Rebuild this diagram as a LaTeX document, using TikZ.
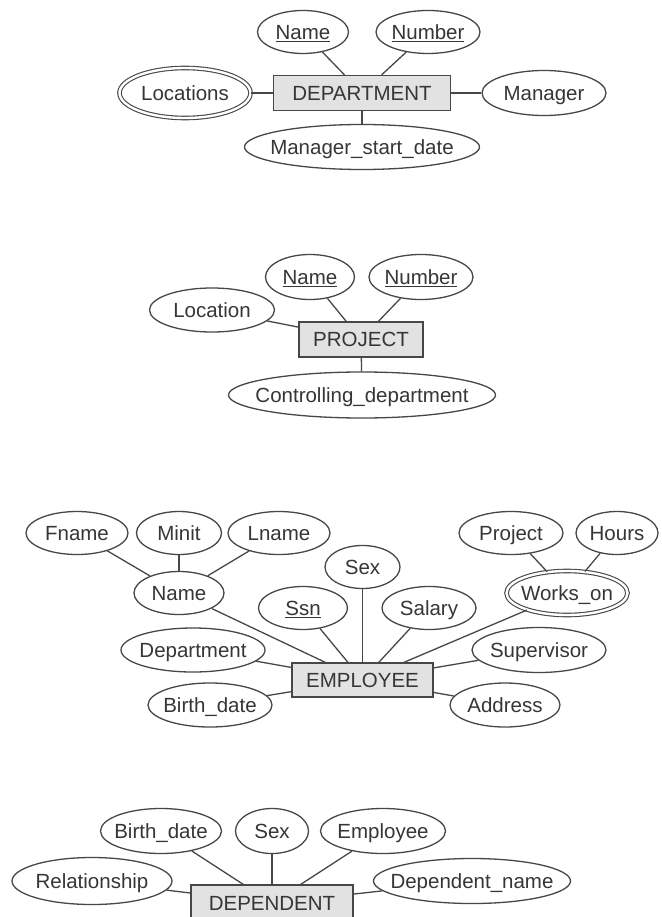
\documentclass[tikz,border=0pt]{standalone}
\usepackage{fontspec}
\setmainfont{Liberation Sans}
\usetikzlibrary{shapes.geometric}
\definecolor{linec}{HTML}{474747}
\definecolor{textc}{HTML}{363636}
\definecolor{boxc}{HTML}{E2E2E2}
\newcommand\ertxt[1]{\makebox[0pt][c]{#1}}
\begin{document}
\begin{tikzpicture}[x=1pt,y=-1pt,
  every node/.style={font=\fontsize{20.5}{24}\selectfont, text=textc, inner sep=0pt, text height=14.7pt, text depth=0pt},
  attr/.style={ellipse, draw=linec, line width=1.3pt},
  dblattr/.style={ellipse, draw=linec, line width=1.1pt, double=white, double distance=2.4pt},
  ent/.style={rectangle, draw=linec, line width=1.3pt, fill=boxc},
  sz/.style 2 args={minimum width=#1pt, minimum height=#2pt},
  conn/.style={draw=linec, line width=1.3pt}]
\fill[white] (0,0) rectangle (661,917);
\path[use as bounding box] (0,0) rectangle (661,917);

% DEPARTMENT
\node[ent, sz={177}{35}] (dept) at (362,93) {DEPARTMENT};
\node[attr, sz={91}{43}] (dName) at (303,32) {\ertxt{\underline{Name}}};
\node[attr, sz={104}{43}] (dNum) at (428,32) {\ertxt{\underline{Number}}};
\node[dblattr, sz={131}{50}] (dLoc) at (185,93) {\ertxt{Locations}};
\node[attr, sz={124}{45}] (dMgr) at (544,93) {\ertxt{Manager}};
\node[attr, sz={235}{45}] (dMsd) at (362,147) {\ertxt{Manager\_start\_date}};
\draw[conn] (dName) -- (dept);
\draw[conn] (dNum) -- (dept);
\draw[conn] (dLoc) -- (dept);
\draw[conn] (dept) -- (dMgr);
\draw[conn] (dept) -- (dMsd);

% PROJECT
\node[ent, sz={124}{35}] (proj) at (361,339.5) {PROJECT};
\node[attr, sz={89}{45}] (pName) at (310,277) {\ertxt{\underline{Name}}};
\node[attr, sz={104}{45}] (pNum) at (421,277) {\ertxt{\underline{Number}}};
\node[attr, sz={125}{44}] (pLoc) at (212,310) {\ertxt{Location}};
\node[attr, sz={267}{46}] (pCtrl) at (362,395) {\ertxt{Controlling\_department}};
\draw[conn] (pName) -- (proj);
\draw[conn] (pNum) -- (proj);
\draw[conn] (pLoc) -- (proj);
\draw[conn] (proj) -- (pCtrl);

% EMPLOYEE
\node[ent, sz={141}{34}] (emp) at (362.5,680) {EMPLOYEE};
\node[attr, sz={102}{43}] (eF) at (77,533) {\ertxt{Fname}};
\node[attr, sz={85}{43}] (eM) at (179,533) {\ertxt{Minit}};
\node[attr, sz={102}{43}] (eL) at (279,533) {\ertxt{Lname}};
\node[attr, sz={90}{43}] (eName) at (179,593) {\ertxt{Name}};
\node[attr, sz={75}{43}] (eSex) at (362.5,567) {\ertxt{Sex}};
\node[attr, sz={89}{43}] (eSsn) at (303,608) {\ertxt{\underline{Ssn}}};
\node[attr, sz={94}{43}] (eSal) at (429,608) {\ertxt{Salary}};
\node[attr, sz={104}{43}] (eProj) at (511,533) {\ertxt{Project}};
\node[attr, sz={82}{43}] (eHrs) at (617,533) {\ertxt{Hours}};
\node[dblattr, sz={121}{44}] (eWork) at (567,593) {\ertxt{Works\_on}};
\node[attr, sz={144}{44}] (eDept) at (193,650) {\ertxt{Department}};
\node[attr, sz={134}{45}] (eSup) at (539,650) {\ertxt{Supervisor}};
\node[attr, sz={124}{44}] (eBd) at (210,705) {\ertxt{Birth\_date}};
\node[attr, sz={110}{44}] (eAddr) at (505,705) {\ertxt{Address}};
\draw[conn] (eF) -- (eName);
\draw[conn] (eM) -- (eName);
\draw[conn] (eL) -- (eName);
\draw[conn] (eName) -- (emp);
\draw[conn] (eSsn) -- (emp);
\draw[conn] (eSex) -- (emp);
\draw[conn] (eSal) -- (emp);
\draw[conn] (eProj) -- (eWork);
\draw[conn] (eHrs) -- (eWork);
\draw[conn] (eWork) -- (emp);
\draw[conn] (eDept) -- (emp);
\draw[conn] (eSup) -- (emp);
\draw[conn] (eBd) -- (emp);
\draw[conn] (eAddr) -- (emp);

% DEPENDENT
\node[ent, sz={162}{36}] (dep) at (272,903) {DEPENDENT};
\node[attr, sz={121}{45}] (dBd) at (161,831) {\ertxt{Birth\_date}};
\node[attr, sz={73}{45}] (dSex) at (272,831) {\ertxt{Sex}};
\node[attr, sz={125}{45}] (dEmp) at (383,831) {\ertxt{Employee}};
\node[attr, sz={160}{47}] (dRel) at (92,881) {\ertxt{Relationship}};
\node[attr, sz={197}{45}] (dDn) at (472,881) {\ertxt{Dependent\_name}};
\draw[conn] (dBd) -- (dep);
\draw[conn] (dSex) -- (dep);
\draw[conn] (dEmp) -- (dep);
\draw[conn] (dRel) -- (dep);
\draw[conn] (dDn) -- (dep);
\end{tikzpicture}
\end{document}
